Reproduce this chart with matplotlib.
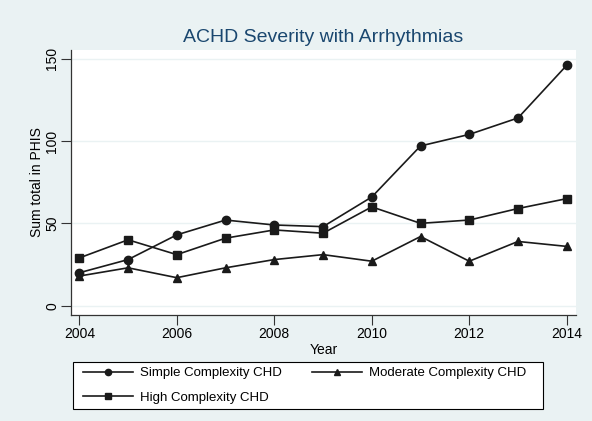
import matplotlib
matplotlib.use('Agg')
import matplotlib.pyplot as plt
from matplotlib.patches import Rectangle

years = [2004, 2005, 2006, 2007, 2008, 2009, 2010, 2011, 2012, 2013, 2014]
simple = [20, 28, 43, 52, 49, 48, 66, 97, 104, 114, 146]
moderate = [18, 23, 17, 23, 28, 31, 27, 42, 27, 39, 36]
high = [29, 40, 31, 41, 46, 44, 60, 50, 52, 59, 65]

x_ticks = [2004, 2006, 2008, 2010, 2012, 2014]
y_ticks = [0, 50, 100, 150]

bg = '#eaf2f3'
plt.rcParams['font.family'] = ['Liberation Sans', 'DejaVu Sans']

fig = plt.figure(figsize=(5.92, 4.21), dpi=100, facecolor=bg)
ax = fig.add_axes([0.12, 0.252, 0.853, 0.629])
ax.set_facecolor('white')

ax.plot(years, simple, color='#1a1a1a', lw=1.2, marker='o', ms=6, label='Simple Complexity CHD')
ax.plot(years, moderate, color='#1a1a1a', lw=1.2, marker='^', ms=6, label='Moderate Complexity CHD')
ax.plot(years, high, color='#1a1a1a', lw=1.2, marker='s', ms=6, label='High Complexity CHD')

ax.set_xlim(2003.83, 2014.19)
ax.set_ylim(-5.6, 155.2)
ax.set_xticks(x_ticks)
ax.set_yticks(y_ticks)
ax.set_yticklabels([str(v) for v in y_ticks], rotation=90, va='center')
ax.tick_params(direction='out', length=7, width=0.8, pad=2, colors='#333333', labelsize=10, labelcolor='black')
ax.tick_params(axis='y', pad=1.5)
ax.grid(axis='y', color=bg, lw=1)
ax.set_axisbelow(True)
for s in ['top', 'right']:
    ax.spines[s].set_visible(False)
for s in ['left', 'bottom']:
    ax.spines[s].set_color('#333333')
    ax.spines[s].set_linewidth(0.9)

ax.set_xlabel('Year', fontsize=10, labelpad=1)
ax.set_ylabel('Sum total in PHIS', fontsize=10, labelpad=1)
ax.set_title('ACHD Severity with Arrhythmias', fontsize=14, color='#1a476f', pad=6)

# legend box drawn separately so the columns can sit where the original has them
fig.patches.append(Rectangle((73 / 592, 1 - 409 / 421), 470 / 592, 47 / 421, transform=fig.transFigure,
                             facecolor='white', edgecolor='black', lw=0.8, zorder=1))
handles, labels = ax.get_legend_handles_labels()
order = [0, 2, 1]
leg = fig.legend([handles[i] for i in order], [labels[i] for i in order],
                 ncol=2, loc='upper left', bbox_to_anchor=(79 / 592, 1 - 363 / 421),
                 borderaxespad=0, frameon=False, fontsize=9.5, borderpad=0.3,
                 handlelength=3.8, handletextpad=0.5, markerscale=0.75,
                 labelspacing=0.95, columnspacing=2.3)
leg.set_zorder(2)

fig.savefig('out.png', dpi=100, facecolor=bg)
